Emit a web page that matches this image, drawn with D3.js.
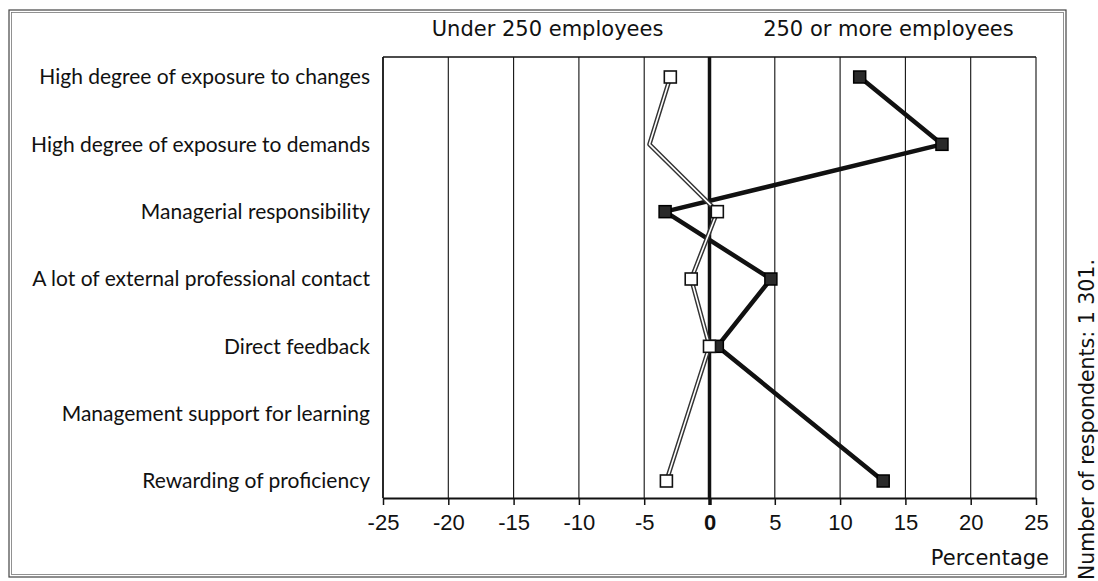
<!DOCTYPE html>
<html lang="en">

<head>
  <meta charset="UTF-8">
  <script src="https://cdn.jsdelivr.net/npm/d3@7"></script>
  <title>Job characteristics by company size</title>
  <style>
    body { margin: 0; background: #fff; }
  </style>
</head>

<body>
  <svg width="1098" height="581"></svg>
</body>
<script>
  // data (difference in percentage points)
  const categories = [
    "High degree of exposure to changes",
    "High degree of exposure to demands",
    "Managerial responsibility",
    "A lot of external professional contact",
    "Direct feedback",
    "Management support for learning",
    "Rewarding of proficiency"
  ];
  const under250 = [-3.0, -4.6, 0.6, -1.4, 0.0, null, -3.3];
  const over250 = [11.5, 17.8, -3.4, 4.7, 0.6, null, 13.3];
  const xTicks = [-25, -20, -15, -10, -5, 0, 5, 10, 15, 20, 25];
  // the under-250 point on row 2 is drawn without a marker in the original
  const under250NoMarker = [1];

  const svg = d3.select("svg");
  const margin = { left: 383, top: 57, right: 62, bottom: 83 };
  const width = +svg.attr("width");
  const height = +svg.attr("height");
  const innerWidth = width - margin.left - margin.right;
  const innerHeight = height - margin.top - margin.bottom;

  // outer frame (scanned double line)
  svg.append("rect")
    .attr("x", 9).attr("y", 10).attr("width", 1057).attr("height", 567)
    .attr("fill", "none").attr("stroke", "#444").attr("stroke-width", 1.2);
  svg.append("rect")
    .attr("x", 11.5).attr("y", 12.5).attr("width", 1052).attr("height", 562)
    .attr("fill", "none").attr("stroke", "#777").attr("stroke-width", 0.8);

  const chart = svg.append("g")
    .attr("transform", "translate(" + margin.left + "," + margin.top + ")");

  const xScale = d3.scaleLinear().domain([-25, 25]).range([0, innerWidth]);
  const yScale = d3.scalePoint().domain(categories).range([20, innerHeight - 17]);

  /**
   * grid lines
   */
  chart.append("g")
    .selectAll("line")
    .data(xTicks.filter(d => d !== -25))
    .join("line")
    .attr("x1", d => xScale(d)).attr("x2", d => xScale(d))
    .attr("y1", 0).attr("y2", innerHeight)
    .attr("stroke", "#111")
    .attr("stroke-width", d => d === 0 ? 3.5 : 1.1);

  // top and left frame of the plot
  chart.append("line")
    .attr("x1", 0).attr("x2", innerWidth).attr("y1", 0).attr("y2", 0)
    .attr("stroke", "#111").attr("stroke-width", 1.5);
  chart.append("line")
    .attr("x1", 0).attr("x2", 0).attr("y1", 0).attr("y2", innerHeight)
    .attr("stroke", "#111").attr("stroke-width", 1.8);

  /**
   * x axis
   */
  const xAxis = chart.append("g")
    .attr("class", "axis--x")
    .attr("transform", "translate(0," + innerHeight + ")")
    .call(d3.axisBottom(xScale).tickValues(xTicks).tickSize(7).tickPadding(9).tickSizeOuter(0));
  xAxis.select(".domain").attr("stroke", "#111").attr("stroke-width", 2);
  xAxis.selectAll(".tick line").attr("stroke", "#111").attr("stroke-width", d => d === 0 ? 3.5 : 1.5);
  xAxis.selectAll(".tick text")
    .attr("fill", "#111")
    .style("font-family", "'Liberation Sans', Arial, sans-serif")
    .style("font-size", "22px")
    .style("font-weight", d => d === 0 ? "bold" : "normal")
    .text(d => d);

  chart.append("text")
    .attr("x", innerWidth + 13)
    .attr("y", innerHeight + 67)
    .attr("text-anchor", "end")
    .attr("fill", "#111")
    .style("font-family", "'DejaVu Sans', sans-serif")
    .style("font-size", "21px")
    .text("Percentage");

  /**
   * category labels
   */
  chart.append("g")
    .selectAll("text")
    .data(categories)
    .join("text")
    .attr("x", -13)
    .attr("y", d => yScale(d))
    .attr("dy", "0.35em")
    .attr("text-anchor", "end")
    .attr("fill", "#111")
    .style("font-family", "Lato, sans-serif")
    .style("font-size", "21px")
    .text(d => d);

  /**
   * headers
   */
  chart.append("text")
    .attr("x", xScale(-12.4))
    .attr("y", -21)
    .attr("text-anchor", "middle")
    .attr("fill", "#111")
    .style("font-family", "'DejaVu Sans', sans-serif")
    .style("font-size", "21px")
    .text("Under 250 employees");
  chart.append("text")
    .attr("x", xScale(13.7))
    .attr("y", -21)
    .attr("text-anchor", "middle")
    .attr("fill", "#111")
    .style("font-family", "'DejaVu Sans', sans-serif")
    .style("font-size", "21px")
    .text("250 or more employees");

  /**
   * lines (empty rows are skipped, the line runs straight across)
   */
  const toPoints = values => values
    .map((v, i) => ({ cat: categories[i], value: v, i: i }))
    .filter(d => d.value !== null);

  const line = d3.line()
    .x(d => xScale(d.value))
    .y(d => yScale(d.cat));

  const smallPts = toPoints(under250);
  const largePts = toPoints(over250);

  // 250 or more: thick black line
  chart.append("path")
    .datum(largePts)
    .attr("d", line)
    .attr("fill", "none")
    .attr("stroke", "#111")
    .attr("stroke-width", 4.5)
    .attr("stroke-linejoin", "round");

  // under 250: hollow double line
  chart.append("path")
    .datum(smallPts)
    .attr("d", line)
    .attr("fill", "none")
    .attr("stroke", "#333")
    .attr("stroke-width", 4.5)
    .attr("stroke-linejoin", "round");
  chart.append("path")
    .datum(smallPts)
    .attr("d", line)
    .attr("fill", "none")
    .attr("stroke", "#fff")
    .attr("stroke-width", 1.6)
    .attr("stroke-linejoin", "round");

  /**
   * markers
   */
  const size = 12;
  chart.append("g")
    .selectAll("rect")
    .data(largePts)
    .join("rect")
    .attr("x", d => xScale(d.value) - size / 2)
    .attr("y", d => yScale(d.cat) - size / 2)
    .attr("width", size).attr("height", size)
    .attr("fill", "#2a2a2a")
    .attr("stroke", "#000")
    .attr("stroke-width", 1.5);

  chart.append("g")
    .selectAll("rect")
    .data(smallPts.filter(d => !under250NoMarker.includes(d.i)))
    .join("rect")
    .attr("x", d => xScale(d.value) - size / 2)
    .attr("y", d => yScale(d.cat) - size / 2)
    .attr("width", size).attr("height", size)
    .attr("fill", "#fff")
    .attr("stroke", "#111")
    .attr("stroke-width", 1.6);

  /**
   * side note
   */
  svg.append("text")
    .attr("transform", "translate(1094,580) rotate(-90)")
    .attr("x", 0)
    .attr("y", 0)
    .attr("text-anchor", "start")
    .attr("fill", "#111")
    .style("font-family", "'DejaVu Sans', sans-serif")
    .style("font-size", "20.5px")
    .text("Number of respondents: 1 301.");
</script>

</html>
